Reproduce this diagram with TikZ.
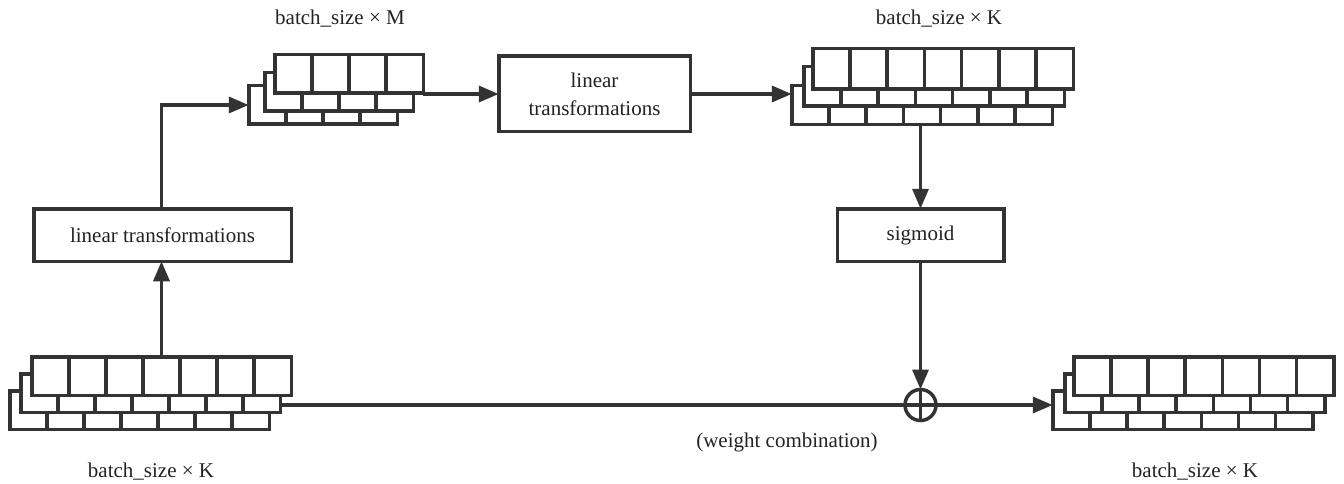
\documentclass[tikz,border=0pt]{standalone}
\usepackage{fontspec}
\setmainfont{Liberation Serif}
\usetikzlibrary{arrows.meta,calc}

\definecolor{ink}{HTML}{333333}
\definecolor{txt}{HTML}{222222}

% one layer of a tensor: a white rectangle split into #6 equal cells
\newcommand\tlayer[6]{%
  \node[layerbox, minimum width=#4pt, minimum height=#5pt] (#1) at (#2,#3) {};
  \pgfmathtruncatemacro\cellsm{#6-1}%
  \foreach \k in {1,...,\cellsm}{%
    \draw[wire] ($(#1.north west)!\k/#6!(#1.north east)$) --
                ($(#1.south west)!\k/#6!(#1.south east)$);
  }%
}

\begin{document}
\begin{tikzpicture}[x=1pt,y=-1pt,
  wire/.style={draw=ink, line width=3.5pt},
  layerbox/.style={wire, fill=white, rectangle, inner sep=0pt, outer sep=0pt,
                   anchor=north west},
  opbox/.style={wire, fill=white, rectangle, inner sep=0pt, outer sep=0pt,
                align=center, text=txt, font=\fontsize{21}{28}\selectfont},
  arr/.style={wire, -{Triangle[length=20pt,width=16pt]}},
  lbl/.style={text=txt, font=\fontsize{21}{26}\selectfont, inner sep=0pt, anchor=base}
]
\useasboundingbox (0,0) rectangle (1344,484);

% input tensor (bottom left)
\tlayer{blB}{9.75}{390.75}{259.5}{38.5}{7}
\tlayer{blM}{20.75}{373.75}{259.5}{38.5}{7}
\tlayer{blF}{31.75}{356.75}{259.5}{38.5}{7}

% hidden tensor (top left)
\tlayer{tlB}{248.75}{85.75}{148.5}{38.5}{4}
\tlayer{tlM}{264.75}{72.75}{148.5}{38.5}{4}
\tlayer{tlF}{274.75}{54.75}{148.5}{38.5}{4}

% gate tensor (top right)
\tlayer{trB}{791.75}{85.75}{260.5}{39}{7}
\tlayer{trM}{803.75}{66.75}{260.5}{39.5}{7}
\tlayer{trF}{812.75}{48.75}{260.5}{40.5}{7}

% output tensor (bottom right)
\tlayer{brB}{1052.75}{390.75}{260}{38.5}{7}
\tlayer{brM}{1064.75}{373.75}{260}{38.5}{7}
\tlayer{brF}{1073.75}{356.75}{260}{38.5}{7}

% operation boxes
\node[opbox, minimum width=257.5pt, minimum height=52.5pt] (lt1) at (162.5,235) {linear transformations};
\node[opbox, minimum width=191.5pt, minimum height=75.5pt] (lt2) at (594.5,94) {linear\\transformations};
\node[opbox, minimum width=166.5pt, minimum height=52.5pt] (sig) at (920.5,235) {sigmoid};

% weighted combination
\node[wire, circle, minimum size=31pt, inner sep=0pt, outer sep=0pt] (op) at (920.5,405) {};
\draw[wire] (op.north) -- (op.south) (op.west) -- (op.east);

% connectors
\draw[arr] (blF.north) -- (blF.north |- lt1.south);
\draw[arr] (lt1.north -| blF.north) |- (tlB.west);
\draw[arr] (tlF.east |- lt2.west) -- (lt2.west);
\draw[arr] (lt2.east) -- (lt2.east -| trB.west);
\draw[arr] (trB.south -| sig.north) -- (sig.north);
\draw[arr] (sig.south) -- (op.north);
\draw[wire] (blM.east |- op.west) -- (op.west);
\draw[arr] (op.east) -- (op.east -| brB.west);

% labels
\node[lbl] (tlL) at (340,25) {batch\_size × M};
\node[lbl] (trL) at (939,25) {batch\_size × K};
\node[lbl] (blL) at (151,477) {batch\_size × K};
\node[lbl] (brL) at (1195,477) {batch\_size × K};
\node[lbl] (opL) at (787,447) {(weight combination)};
\end{tikzpicture}
\end{document}
